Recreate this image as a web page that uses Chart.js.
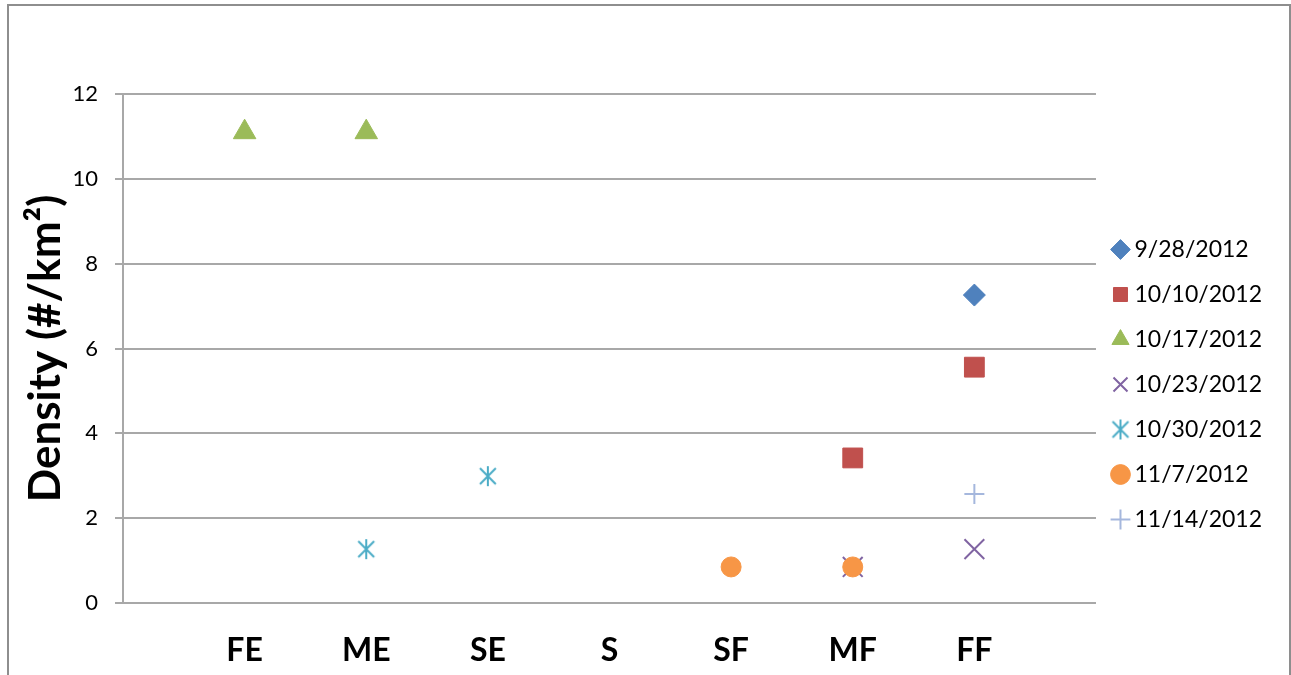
<!DOCTYPE html>
<html>
<head>
<meta charset="utf-8">
<script src="https://cdn.jsdelivr.net/npm/chart.js@4"></script>
<style>
  html, body { margin: 0; padding: 0; background: #fff; overflow: hidden; }
  #frame { position: absolute; left: 7px; top: 4px; width: 1280px; height: 720px; border: 2px solid #8e8e8e; }
  #c { position: absolute; left: 0; top: 0; }
</style>
</head>
<body>
<div id="frame"></div>
<canvas id="c" width="1291" height="675"></canvas>
<script>
// Sampling zones along the transect
const categories = ['FE', 'ME', 'SE', 'S', 'SF', 'MF', 'FF'];

// Survey dates
const seriesNames = ['9/28/2012', '10/10/2012', '10/17/2012', '10/23/2012', '10/30/2012', '11/7/2012', '11/14/2012'];

// Density (#/km²) per zone for each survey date; null = not observed
const d0928 = [null, null, null, null, null, null, 7.26];
const d1010 = [null, null, null, null, null, 3.42, 5.56];
const d1017 = [11.1, 11.1, null, null, null, null, null];
const d1023 = [null, null, null, null, null, 0.85, 1.27];
const d1030 = [null, 1.27, 2.99, null, null, null, null];
const d1107 = [null, null, null, null, 0.85, 0.85, null];
const d1114 = [null, null, null, null, null, null, 2.57];

const yTicks = [0, 2, 4, 6, 8, 10, 12];

// Six-armed asterisk marker (X plus a vertical bar)
function asteriskMarker(size, color, lw) {
  const cv = document.createElement('canvas');
  cv.width = size; cv.height = size;
  const g = cv.getContext('2d');
  const c = size / 2, a = size * 0.36, v = size * 0.46;
  g.strokeStyle = color; g.lineWidth = lw; g.lineCap = 'butt';
  g.beginPath();
  g.moveTo(c - a, c - a); g.lineTo(c + a, c + a);
  g.moveTo(c + a, c - a); g.lineTo(c - a, c + a);
  g.moveTo(c, c - v); g.lineTo(c, c + v);
  g.stroke();
  return cv;
}

const toPoints = arr => arr.map((v, i) => (v === null ? null : { x: i + 1, y: v })).filter(p => p);

const styles = [
  { color: '#4F81BD', pointStyle: 'rectRot', radius: 11, border: 1 },
  { color: '#C0504D', pointStyle: 'rect', radius: 14, border: 1 },
  { color: '#9BBB59', pointStyle: 'triangle', radius: 13, border: 1 },
  { color: '#8064A2', pointStyle: 'crossRot', radius: 14, border: 2 },
  { color: '#4BACC6', pointStyle: asteriskMarker(22, '#4BACC6', 2), radius: 11, border: 2 },
  { color: '#F79646', pointStyle: 'circle', radius: 10, border: 1 },
  { color: '#A5B7DD', pointStyle: 'cross', radius: 10, border: 2 }
];
const seriesValues = [d0928, d1010, d1017, d1023, d1030, d1107, d1114];

const datasets = seriesValues.map((vals, i) => ({
  label: seriesNames[i],
  data: toPoints(vals),
  showLine: false,
  pointStyle: styles[i].pointStyle,
  pointRadius: styles[i].radius,
  pointHoverRadius: styles[i].radius,
  pointBackgroundColor: styles[i].color,
  pointBorderColor: styles[i].color,
  pointBorderWidth: styles[i].border,
  backgroundColor: styles[i].color,
  borderColor: styles[i].color,
  order: seriesValues.length - i
}));

const gridColor = '#a8a8a8';

new Chart(document.getElementById('c'), {
  type: 'scatter',
  data: { datasets },
  options: {
    responsive: false,
    animation: false,
    devicePixelRatio: 1,
    layout: { padding: { top: 94, left: 0, bottom: 0, right: 19 } },
    plugins: {
      tooltip: { enabled: false },
      legend: {
        position: 'right',
        align: 'center',
        labels: {
          usePointStyle: true,
          boxWidth: 5,
          boxHeight: 14,
          padding: 22,
          color: '#000',
          font: { family: 'Lato', size: 23 },
          sort: (a, b) => a.datasetIndex - b.datasetIndex
        }
      }
    },
    scales: {
      x: {
        type: 'linear',
        min: 0,
        max: categories.length + 1,
        afterBuildTicks: s => { s.ticks = categories.map((_, i) => ({ value: i + 1 })); },
        afterFit: s => { s.height = 72; },
        grid: { display: false, drawTicks: false },
        border: { display: false },
        ticks: {
          padding: 28,
          color: '#000',
          font: { family: 'Lato', size: 32, weight: 'bold' },
          maxRotation: 0,
          autoSkip: false,
          callback: v => categories[v - 1] || ''
        }
      },
      y: {
        min: 0,
        max: 12,
        afterBuildTicks: s => { s.ticks = yTicks.map(v => ({ value: v })); },
        afterFit: s => { s.width = 123; },
        grid: { color: gridColor, lineWidth: 2, tickLength: 8, drawTicks: true },
        border: { display: true, color: gridColor, width: 2 },
        ticks: {
          padding: 17,
          color: '#000',
          font: { family: 'Lato', size: 22 }
        },
        title: {
          display: true,
          text: 'Density (#/km²)',
          color: '#000',
          font: { family: 'Lato', size: 44, weight: 'bold' },
          padding: { top: 19, bottom: 0 }
        }
      }
    }
  }
});
</script>
</body>
</html>
